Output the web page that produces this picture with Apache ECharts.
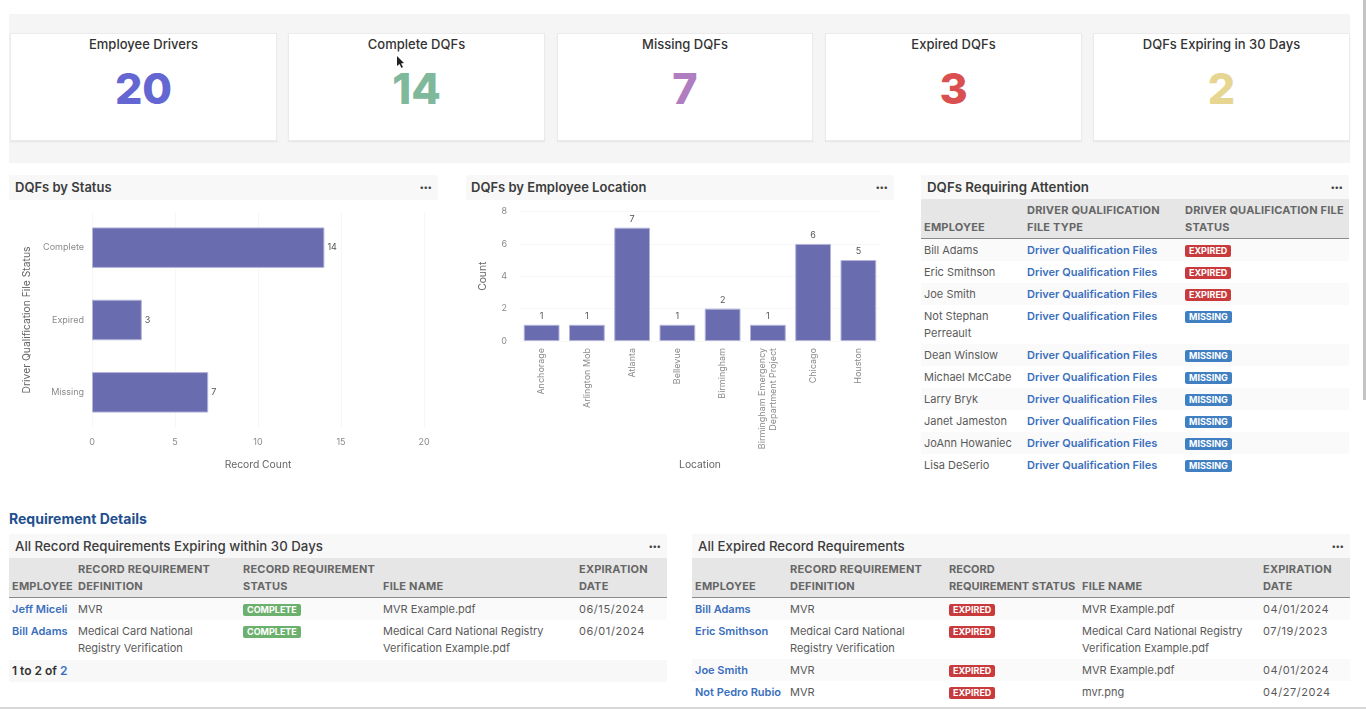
<!DOCTYPE html>
<html>
<head>
<meta charset="utf-8">
<title>DQF dashboard</title>
<script src="https://cdn.jsdelivr.net/npm/echarts@6/dist/echarts.min.js"></script>
<style>
  html, body { margin: 0; padding: 0; width: 1366px; height: 709px; overflow: hidden; background: #fff; }
  body { font-family: Inter, "Noto Sans", sans-serif; color: #5a5a5a; position: relative; }
  .box { position: absolute; box-sizing: border-box; }
  .card { background: #fff; border: 1px solid #ebebeb; box-shadow: 0 1px 1px #e8e8e8; text-align: center; }
  .card .t { position: absolute; left: 0; right: 0; top: 2px; line-height: 17px; font-size: 13px; font-weight: 500; color: #333; }
  .card .n { position: absolute; left: 0; right: 0; top: 27px; line-height: 54px; font-size: 43px; font-weight: 800; }
  .head { background: #f8f8f8; font-size: 13px; font-weight: 600; color: #3c3c3c; line-height: 25px; padding-left: 6px; }
  .head .dots { position: absolute; right: 6px; top: 0; font-weight: 800; letter-spacing: 0.5px; font-size: 8px; line-height: 24px; color: #444; }
  table { position: absolute; border-collapse: collapse; table-layout: fixed; font-size: 11px; line-height: 17px; }
  th, td { padding: 2.5px 0 2.5px 3px; white-space: pre; overflow: visible; text-align: left; vertical-align: top; }
  th { background: #e6e6e6; color: #666; font-weight: 700; vertical-align: bottom; font-size: 11px; letter-spacing: 0.2px; border-bottom: 1px solid #8a8a8a; }
  #expired th:nth-child(3) { letter-spacing: 0; }
  tbody tr:nth-child(odd) td { background: #fafafa; }
  td.link { color: #3a6fbd; font-weight: 600; }
  td:last-child { letter-spacing: 0.55px; }
  .badge { display: inline-block; color: #fff; font-weight: 700; font-size: 9px; line-height: 12px; letter-spacing: 0; padding: 0 4px; border-radius: 2px; vertical-align: top; margin-top: 3px; }
  .b-EXPIRED { background: #c93a3c; }
  .b-MISSING { background: #3f7fc2; }
  .b-COMPLETE { background: #6cb06e; }
</style>
</head>
<body>
<div class="box" style="left:9px;top:14px;width:1341px;height:149px;background:#f5f5f5"></div>
<div id="cards"></div>

<div class="box head" style="left:9px;top:175px;width:429px;height:25px">DQFs by Status<span class="dots">•••</span></div>
<div class="box" id="statusChart" style="left:9px;top:200px;width:429px;height:280px"></div>

<div class="box head" style="left:466px;top:175px;width:428px;height:25px;padding-left:5px">DQFs by Employee Location<span class="dots">•••</span></div>
<div class="box" id="locationChart" style="left:466px;top:200px;width:428px;height:280px"></div>

<div class="box head" style="left:921px;top:175px;width:428px;height:24px;font-size:13.3px">DQFs Requiring Attention<span class="dots">•••</span></div>
<div id="attention"></div>

<div class="box" style="left:9px;top:510px;font-size:14px;font-weight:700;line-height:18px;color:#1f4f8f">Requirement Details</div>

<div class="box head" style="left:9px;top:534px;width:658px;height:24px;font-weight:500;font-size:13.25px">All Record Requirements Expiring within 30 Days<span class="dots">•••</span></div>
<div id="expiring"></div>
<div class="box" style="left:9px;top:660px;width:658px;height:22px;background:#f8f8f8;font-size:12px;font-weight:600;line-height:21px;padding-left:3px;color:#333">1 to 2 of <span style="color:#3a6fbd">2</span></div>

<div class="box head" style="left:692px;top:534px;width:658px;height:24px;font-weight:500;font-size:13.25px">All Expired Record Requirements<span class="dots">•••</span></div>
<div id="expired"></div>

<div class="box" style="left:1363px;top:0;width:3px;height:400px;background:#c4c4c4"></div>
<div class="box" style="left:0;top:707px;width:1366px;height:2px;background:#d8d8d8"></div>
<svg class="box" style="left:396px;top:56px" width="10" height="14"><path d="M1 0 L1 10 L3.5 8 L5.5 12 L7 11 L5 7.5 L8 7 Z" fill="#222"/></svg>

<script>
// kpi tiles
const kpiTitles = ["Employee Drivers", "Complete DQFs", "Missing DQFs", "Expired DQFs", "DQFs Expiring in 30 Days"];
const kpiValues = [20, 14, 7, 3, 2];
const kpiColors = ["#6467d2", "#80b89c", "#b07dc1", "#da4f50", "#e6d692"];
const kpiLeft = [10, 288, 557, 825, 1093];
const kpiWidth = [267, 257, 256, 257, 257];

// bar charts
const statusNames = ["Complete", "Expired", "Missing"];
const statusCounts = [14, 3, 7];
const locationNames = ["Anchorage", "Arlington Mob", "Atlanta", "Bellevue", "Birmingham",
  "Birmingham Emergency\nDepartment Project", "Chicago", "Houston"];
const locationCounts = [1, 1, 7, 1, 2, 1, 6, 5];

// tables
const attentionHead = ["EMPLOYEE", "DRIVER QUALIFICATION\nFILE TYPE", "DRIVER QUALIFICATION FILE\nSTATUS"];
const attentionNames = ["Bill Adams", "Eric Smithson", "Joe Smith", "Not Stephan\nPerreault", "Dean Winslow",
  "Michael McCabe", "Larry Bryk", "Janet Jameston", "JoAnn Howaniec", "Lisa DeSerio"];
const attentionStatus = ["EXPIRED", "EXPIRED", "EXPIRED", "MISSING", "MISSING", "MISSING", "MISSING", "MISSING", "MISSING", "MISSING"];

const expiringHead = ["EMPLOYEE", "RECORD REQUIREMENT\nDEFINITION", "RECORD REQUIREMENT\nSTATUS", "FILE NAME", "EXPIRATION\nDATE"];
const expiringNames = ["Jeff Miceli", "Bill Adams"];
const expiringDefs = ["MVR", "Medical Card National\nRegistry Verification"];
const expiringFiles = ["MVR Example.pdf", "Medical Card National Registry\nVerification Example.pdf"];
const expiringDates = ["06/15/2024", "06/01/2024"];

const expiredHead = ["EMPLOYEE", "RECORD REQUIREMENT\nDEFINITION", "RECORD\nREQUIREMENT STATUS", "FILE NAME", "EXPIRATION\nDATE"];
const expiredNames = ["Bill Adams", "Eric Smithson", "Joe Smith", "Not Pedro Rubio"];
const expiredDefs = ["MVR", "Medical Card National\nRegistry Verification", "MVR", "MVR"];
const expiredFiles = ["MVR Example.pdf", "Medical Card National Registry\nVerification Example.pdf", "MVR Example.pdf", "mvr.png"];
const expiredDates = ["04/01/2024", "07/19/2023", "04/01/2024", "04/27/2024"];

document.getElementById("cards").innerHTML = kpiTitles.map((t, i) =>
  '<div class="box card" style="left:' + kpiLeft[i] + 'px;top:33px;width:' + kpiWidth[i] + 'px;height:108px">' +
  '<div class="t">' + t + '</div><div class="n" style="color:' + kpiColors[i] + '">' + kpiValues[i] + '</div></div>'
).join("");

const badge = s => '<span class="badge b-' + s + '">' + s + '</span>';

function drawTable(id, left, top, widths, head, rows, linkCols) {
  const cols = widths.map(w => '<col style="width:' + w + 'px">').join("");
  const ths = head.map(h => '<th>' + h + '</th>').join("");
  const trs = rows.map(r => '<tr>' + r.map((c, i) =>
    '<td' + (linkCols.includes(i) ? ' class="link"' : '') + '>' + c + '</td>').join("") + '</tr>').join("");
  const total = widths.reduce((a, b) => a + b, 0);
  document.getElementById(id).innerHTML = '<table style="left:' + left + 'px;top:' + top + 'px;width:' + total + 'px"><colgroup>' + cols +
    '</colgroup><thead><tr>' + ths + '</tr></thead><tbody>' + trs + '</tbody></table>';
}

drawTable("attention", 921, 199, [103, 158, 167], attentionHead,
  attentionNames.map((n, i) => [n, "Driver Qualification Files", badge(attentionStatus[i])]), [1]);
drawTable("expiring", 9, 558, [66, 165, 140, 196, 91], expiringHead,
  expiringNames.map((n, i) => [n, expiringDefs[i], badge("COMPLETE"), expiringFiles[i], expiringDates[i]]), [0]);
drawTable("expired", 692, 558, [95, 159, 133, 181, 90], expiredHead,
  expiredNames.map((n, i) => [n, expiredDefs[i], badge("EXPIRED"), expiredFiles[i], expiredDates[i]]), [0]);

const barStyle = { color: "#6a6cb0", borderColor: "#b3b4d8", borderWidth: 1 };
const axisText = { color: "#8a8a8a", fontSize: 9, fontFamily: "Inter" };
const nameText = { color: "#666", fontSize: 10.3, fontFamily: "Inter" };
const faintLine = { show: true, lineStyle: { color: "#f7f7f7", width: 1 } };

const statusChart = echarts.init(document.getElementById("statusChart"));
statusChart.setOption({
  animation: false,
  grid: { left: 83, top: 11.5, width: 332, height: 217 },
  xAxis: {
    type: "value", min: 0, max: 20, interval: 5,
    name: "Record Count", nameLocation: "middle", nameGap: 31, nameTextStyle: nameText,
    axisLabel: Object.assign({ margin: 9 }, axisText),
    axisLine: { show: false }, axisTick: { show: false }, splitLine: faintLine
  },
  yAxis: {
    type: "category", inverse: true, data: statusNames,
    name: "Driver Qualification File Status", nameLocation: "middle", nameGap: 60, nameTextStyle: nameText,
    axisLabel: Object.assign({ margin: 8 }, axisText),
    axisLine: { show: false }, axisTick: { show: false }
  },
  series: [{
    type: "bar", data: statusCounts, barCategoryGap: "44%", itemStyle: barStyle,
    label: { show: true, position: "right", distance: 3, color: "#555", fontSize: 9, fontFamily: "Inter" }
  }]
});

const locationChart = echarts.init(document.getElementById("locationChart"));
locationChart.setOption({
  animation: false,
  grid: { left: 53, top: 11.5, width: 362, height: 129.5 },
  xAxis: {
    type: "category", data: locationNames,
    name: "Location", nameLocation: "middle", nameGap: 119, nameTextStyle: nameText,
    axisLabel: Object.assign({ rotate: 90, margin: 7, interval: 0, lineHeight: 11 }, axisText),
    axisLine: { show: false }, axisTick: { show: false }
  },
  yAxis: {
    type: "value", min: 0, max: 8, interval: 2,
    name: "Count", nameLocation: "middle", nameGap: 31, nameTextStyle: nameText,
    axisLabel: Object.assign({ margin: 12 }, axisText),
    axisLine: { show: false }, axisTick: { show: false }, splitLine: faintLine
  },
  series: [{
    type: "bar", data: locationCounts, barCategoryGap: "21%", itemStyle: barStyle,
    label: { show: true, position: "top", distance: 4, color: "#555", fontSize: 9, fontFamily: "Inter" }
  }]
});
</script>
</body>
</html>
